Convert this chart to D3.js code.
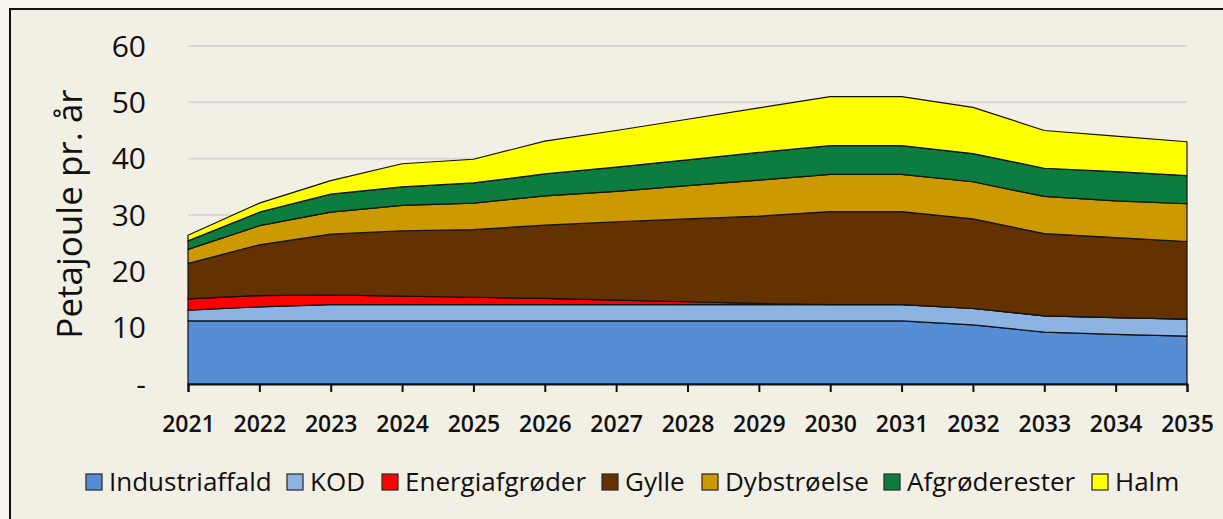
<!DOCTYPE html>
<html>

<head>
  <meta http-equiv="content-type" content="text/html; charset=utf-8">
  <title>Petajoule pr. år</title>
  <style>
    body { margin: 0; background: #f8f5ee; }
    svg#canvas { display: block; }
    text { font-family: "Open Sans", Lato, sans-serif; fill: #111; }
  </style>
</head>

<body>
  <svg id="canvas"></svg>

  <script src="https://d3js.org/d3.v7.min.js"></script>
  <script>

    const years = d3.range(2021, 2036);
    const series = ["Industriaffald", "KOD", "Energiafgrøder", "Gylle", "Dybstrøelse", "Afgrøderester", "Halm"];
    const colors = ["#558ed5", "#8db3e2", "#ff0000", "#633200", "#cc9900", "#0d7d3f", "#ffff00"];

    const industriaffald = [11.2, 11.2, 11.2, 11.2, 11.2, 11.2, 11.2, 11.2, 11.2, 11.2, 11.2, 10.5, 9.2, 8.8, 8.5];
    const kod = [1.9, 2.5, 2.9, 2.9, 2.9, 2.9, 2.9, 2.9, 2.9, 2.9, 2.9, 2.9, 2.9, 3.0, 3.0];
    const energiafgroeder = [2.0, 2.0, 1.7, 1.5, 1.3, 1.1, 0.8, 0.5, 0.2, 0, 0, 0, 0, 0, 0];
    const gylle = [6.3, 9.0, 10.8, 11.6, 12.0, 13.0, 13.9, 14.7, 15.5, 16.5, 16.5, 15.9, 14.6, 14.2, 13.8];
    const dybstroeelse = [2.5, 3.4, 3.9, 4.5, 4.7, 5.2, 5.4, 5.9, 6.4, 6.6, 6.6, 6.6, 6.6, 6.5, 6.7];
    const afgroederester = [1.5, 2.4, 3.2, 3.3, 3.6, 3.9, 4.3, 4.6, 4.9, 5.1, 5.1, 5.0, 5.0, 5.2, 5.0];
    const halm = [1.0, 1.6, 2.4, 4.1, 4.2, 5.8, 6.5, 7.2, 7.9, 8.7, 8.7, 8.2, 6.7, 6.3, 6.0];

    const yTicks = [0, 10, 20, 30, 40, 50, 60];
    const yTickLabels = ["-", "10", "20", "30", "40", "50", "60"];

    const cols = [industriaffald, kod, energiafgroeder, gylle, dybstroeelse, afgroederester, halm];
    const table = years.map((yr, i) => {
      const row = { year: yr };
      series.forEach((s, j) => { row[s] = cols[j][i]; });
      return row;
    });

    const W = 1223, H = 519;
    const svg = d3.select("svg#canvas").attr("width", W).attr("height", H);

    // chart frame
    svg.append("rect")
      .attr("x", 10).attr("y", 9).attr("width", W + 20).attr("height", H + 20)
      .style("fill", "#f2efe5").style("stroke", "#111").style("stroke-width", 2);

    const x = d3.scaleLinear().domain([2021, 2035]).range([188, 1187]);
    const y = d3.scaleLinear().domain([0, 60]).range([384, 46]);

    // gridlines
    svg.append("g").selectAll("line")
      .data(yTicks.slice(1))
      .enter().append("line")
      .attr("x1", x(2021)).attr("x2", x(2035))
      .attr("y1", d => y(d)).attr("y2", d => y(d))
      .style("stroke", "#d9d8d6").style("stroke-width", 2);

    const stack = d3.stack().keys(series);
    const layers = stack(table);

    const area = d3.area()
      .x(d => x(d.data.year))
      .y0(d => y(d[0]))
      .y1(d => y(d[1]));

    svg.append("g").selectAll("path")
      .data(layers)
      .enter().append("path")
      .attr("d", area)
      .style("fill", (d, i) => colors[i])
      .style("stroke", "#111")
      .style("stroke-width", 1.2)
      .style("stroke-linejoin", "round");

    // x axis
    const xAxis = svg.append("g")
      .attr("transform", "translate(0," + y(0) + ")")
      .call(d3.axisBottom(x).tickValues(years).tickFormat(d3.format("d")).tickSize(8).tickPadding(24));
    xAxis.select(".domain").style("stroke", "#111").style("stroke-width", 2);
    xAxis.selectAll(".tick line").style("stroke", "#111").style("stroke-width", 2);
    xAxis.selectAll("text")
      .style("font-size", "23px").style("font-weight", 600)
      .style("font-family", "\"Open Sans\", sans-serif").style("fill", "#111");

    // y labels
    svg.append("g").selectAll("text")
      .data(yTicks)
      .enter().append("text")
      .attr("x", 146)
      .attr("y", d => y(d))
      .attr("dy", "0.36em")
      .attr("text-anchor", "end")
      .style("font-size", "30px")
      .text((d, i) => yTickLabels[i]);

    svg.append("text")
      .attr("transform", "translate(82,214) rotate(-90)")
      .attr("text-anchor", "middle")
      .style("font-size", "35px")
      .text("Petajoule pr. år");

    // legend
    const legendX = [86, 287, 382, 602, 702, 884, 1092];
    const legend = svg.append("g").selectAll("g")
      .data(series)
      .enter().append("g")
      .attr("transform", (d, i) => "translate(" + legendX[i] + ",474)");
    legend.append("rect")
      .attr("width", 16).attr("height", 16)
      .style("fill", (d, i) => colors[i])
      .style("stroke", "#333").style("stroke-width", 1.3);
    legend.append("text")
      .attr("x", 23).attr("y", 8).attr("dy", "0.36em")
      .style("font-size", "26px")
      .text(d => d);

  </script>
</body>

</html>
